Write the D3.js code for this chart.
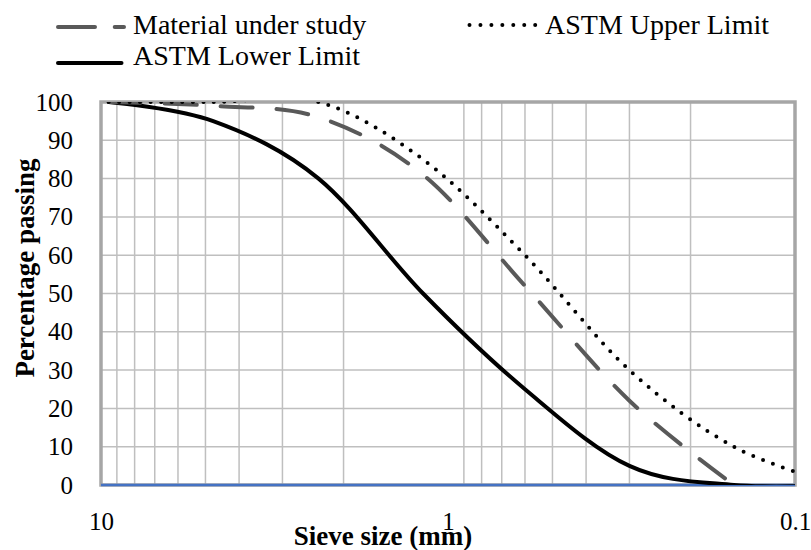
<!DOCTYPE html>
<html>
<head>
<meta charset="utf-8">
<script src="https://cdn.jsdelivr.net/npm/d3@7"></script>
<style>
  body { margin: 0; background: #ffffff; }
  #chart svg { display: block; }
  #chart svg text { font-family: "Liberation Serif", serif; }
</style>
</head>
<body>
<div id="chart"></div>
<script>
// Sieve sizes in mm and percentage passing for each curve
const sieveSizes = [9.5, 4.75, 2.36, 1.18, 0.6, 0.3, 0.15, 0.075];
const materialPassing = [100, 99, 96, 81, 52, 22, 0];
const lowerLimit = [100, 95, 80, 50, 25, 5, 0, 0];
const upperLimit = [100, 100, 100, 85, 60, 30, 10, 0];

// Axis ticks and minor grid values
const yTicks = [0, 10, 20, 30, 40, 50, 60, 70, 80, 90, 100];
const xTicks = [10, 1, 0.1];
const xGridValues = [9, 8, 7, 6, 5, 4, 3, 2, 0.9, 0.8, 0.7, 0.6, 0.5, 0.4, 0.3, 0.2];

class GradationChart {
  constructor(_config) {
    this.config = {
      parentElement: _config.parentElement,
      containerWidth: _config.containerWidth,
      containerHeight: _config.containerHeight,
      margin: _config.margin || { top: 102, right: 16, bottom: 65, left: 101 },
    };
    this.initVis();
  }

  initVis() {
    let vis = this;

    vis.width = vis.config.containerWidth - vis.config.margin.left - vis.config.margin.right;
    vis.height = vis.config.containerHeight - vis.config.margin.top - vis.config.margin.bottom;

    vis.svg = d3
      .select(vis.config.parentElement)
      .append("svg")
      .attr("width", vis.config.containerWidth)
      .attr("height", vis.config.containerHeight);

    vis.svg
      .append("defs")
      .append("clipPath")
      .attr("id", "plot-clip")
      .append("rect")
      .attr("width", vis.width)
      .attr("height", vis.height);

    vis.chart = vis.svg
      .append("g")
      .attr("transform", `translate(${vis.config.margin.left},${vis.config.margin.top})`);

    // Log scale, sizes decrease to the right
    vis.xScale = d3.scaleLog().domain([10, 0.1]).range([0, vis.width]);
    vis.yScale = d3.scaleLinear().domain([0, 100]).range([vis.height, 0]);

    // Gridlines
    vis.chart
      .append("g")
      .attr("class", "grid-y")
      .selectAll("line")
      .data(yTicks.filter((d) => d > 0 && d < 100))
      .join("line")
      .attr("x1", 0)
      .attr("x2", vis.width)
      .attr("y1", (d) => vis.yScale(d))
      .attr("y2", (d) => vis.yScale(d))
      .attr("stroke", "#bfbfbf")
      .attr("stroke-width", 1.5);

    vis.chart
      .append("g")
      .attr("class", "grid-x")
      .selectAll("line")
      .data(xGridValues)
      .join("line")
      .attr("x1", (d) => vis.xScale(d))
      .attr("x2", (d) => vis.xScale(d))
      .attr("y1", 0)
      .attr("y2", vis.height)
      .attr("stroke", "#bfbfbf")
      .attr("stroke-width", 1.5);

    // Plot frame
    vis.chart
      .append("rect")
      .attr("width", vis.width)
      .attr("height", vis.height)
      .attr("fill", "none")
      .attr("stroke", "#a6a6a6")
      .attr("stroke-width", 3.5);

    // Zero line in blue
    vis.chart
      .append("line")
      .attr("x1", 0)
      .attr("x2", vis.width)
      .attr("y1", vis.yScale(0))
      .attr("y2", vis.yScale(0))
      .attr("stroke", "#4472c4")
      .attr("stroke-width", 2.5);

    // Axes (labels only)
    const yAxis = d3.axisLeft(vis.yScale).tickValues(yTicks).tickSize(0).tickPadding(28);
    const xAxis = d3
      .axisBottom(vis.xScale)
      .tickValues(xTicks)
      .tickSize(0)
      .tickPadding(27)
      .tickFormat((d) => String(d));

    vis.chart
      .append("g")
      .call(yAxis)
      .attr("font-family", null)
      .attr("font-size", 25)
      .call((g) => g.select(".domain").remove())
      .selectAll("text")
      .attr("fill", "#000");

    vis.chart
      .append("g")
      .attr("transform", `translate(0,${vis.height})`)
      .call(xAxis)
      .attr("font-family", null)
      .attr("font-size", 25)
      .call((g) => g.select(".domain").remove())
      .selectAll("text")
      .attr("fill", "#000");

    // Curves, smoothed like the spreadsheet
    const line = d3
      .line()
      .x((d) => vis.xScale(d.size))
      .y((d) => vis.yScale(d.value))
      .curve(d3.curveCardinal.tension(0));

    const series = [
      { key: "lower", values: lowerLimit, stroke: "#000000", dash: null },
      { key: "material", values: materialPassing, stroke: "#595959", dash: "32,24" },
      { key: "upper", values: upperLimit, stroke: "#000000", dash: "0,10.5" },
    ];

    vis.chart
      .append("g")
      .attr("clip-path", "url(#plot-clip)")
      .selectAll("path")
      .data(series)
      .join("path")
      .attr("d", (s) => line(s.values.map((v, i) => ({ size: sieveSizes[i], value: v }))))
      .attr("fill", "none")
      .attr("stroke", (s) => s.stroke)
      .attr("stroke-width", 4)
      .attr("stroke-linecap", "round")
      .attr("stroke-dasharray", (s) => s.dash);

    // Axis titles
    vis.svg
      .append("text")
      .attr("x", 383)
      .attr("y", 545)
      .attr("text-anchor", "middle")
      .attr("font-size", 27)
      .attr("font-weight", "bold")
      .text("Sieve size (mm)");

    vis.svg
      .append("text")
      .attr("transform", "translate(34,268) rotate(-90)")
      .attr("text-anchor", "middle")
      .attr("font-size", 27)
      .attr("font-weight", "bold")
      .text("Percentage passing");

    // Legend
    const legendItems = [
      { label: "Material under study", x1: 58, x2: 124, y: 27, textX: 133, textY: 34, stroke: "#595959", dash: "37,19.7" },
      { label: "ASTM Upper Limit", x1: 469.5, x2: 535.2, y: 25, textX: 545, textY: 33.5, stroke: "#000000", dash: "0,10.95" },
      { label: "ASTM Lower Limit", x1: 58, x2: 121.5, y: 63, textX: 133, textY: 64.5, stroke: "#000000", dash: null },
    ];

    const legend = vis.svg.append("g").attr("class", "legend");

    legend
      .selectAll("path")
      .data(legendItems)
      .join("path")
      .attr("d", (d) => `M${d.x1},${d.y}H${d.x2}`)
      .attr("stroke", (d) => d.stroke)
      .attr("stroke-width", 4)
      .attr("stroke-linecap", "round")
      .attr("stroke-dasharray", (d) => d.dash);

    legend
      .selectAll("text")
      .data(legendItems)
      .join("text")
      .attr("x", (d) => d.textX)
      .attr("y", (d) => d.textY)
      .attr("font-size", 28)
      .text((d) => d.label);
  }
}

const chart = new GradationChart({
  parentElement: "#chart",
  containerWidth: 811,
  containerHeight: 550,
  margin: { top: 102, right: 16, bottom: 65, left: 101 },
});
</script>
</body>
</html>
